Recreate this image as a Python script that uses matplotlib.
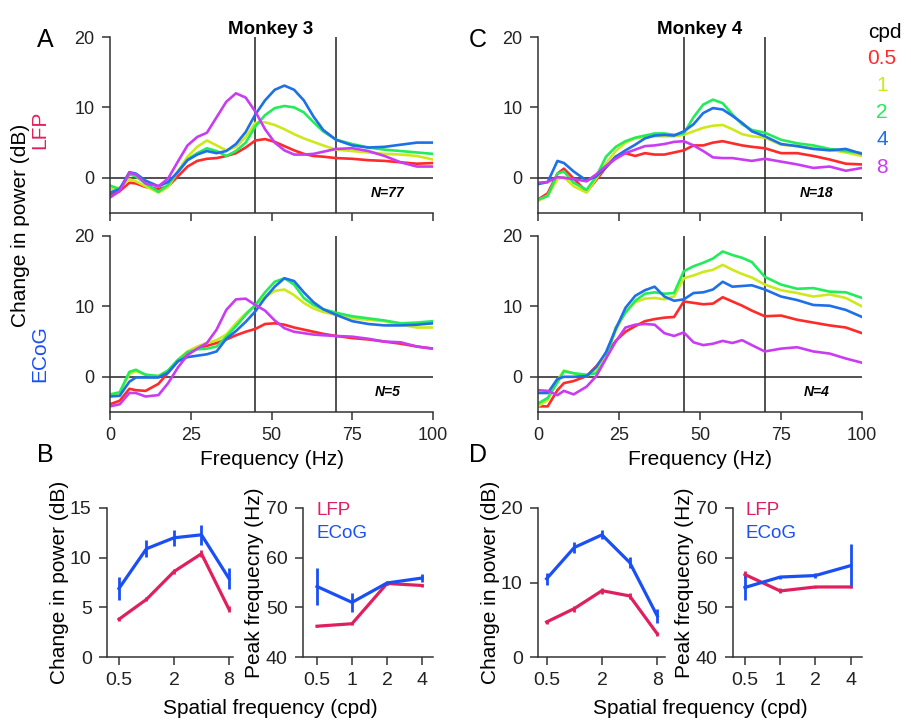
import numpy as np
import matplotlib
matplotlib.use("Agg")
import matplotlib.pyplot as plt

plt.rcParams.update({
    "font.family": ["Liberation Sans", "DejaVu Sans"],
    "font.size": 13,
    "axes.linewidth": 1.1,
    "axes.edgecolor": "#333333",
    "xtick.major.size": 6,
    "ytick.major.size": 6,
    "xtick.major.width": 1.1,
    "ytick.major.width": 1.1,
    "xtick.color": "#333333",
    "ytick.color": "#333333",
    "xtick.labelcolor": "#222222",
    "ytick.labelcolor": "#222222",
})

# ── Data: spectra (change in power, dB) ───────────────────────────────────────
freq = [0, 3, 6, 8, 11, 15, 18, 21, 24, 27, 30, 33, 36, 39, 42, 45, 48, 51, 54,
        57, 60, 63, 66, 70, 75, 80, 85, 90, 95, 100]

cpd_labels = ["0.5", "1", "2", "4", "8"]
cpd_colors = ["#ff2a2a", "#cfe81c", "#22ec5a", "#1f6fe8", "#c93cf2"]

# Monkey 3, LFP
m3_lfp_05 = [-2.4, -1.9, -0.7, -0.8, -1.3, -1.6, -1.2, 0.2, 1.6, 2.4, 2.7, 2.8, 3.1, 3.5, 4.3,
             5.3, 5.5, 5.1, 4.5, 3.9, 3.4, 3.1, 3.0, 2.8, 2.7, 2.5, 2.4, 2.2, 2.0, 2.1]
m3_lfp_1 = [-1.6, -1.4, -0.2, -0.5, -1.2, -2.1, -1.3, 0.9, 3.0, 4.4, 5.3, 4.6, 3.9, 4.4, 5.8,
            7.8, 7.9, 7.5, 6.9, 6.2, 5.6, 5.1, 4.6, 4.0, 3.8, 3.6, 3.4, 3.3, 3.1, 2.6]
m3_lfp_2 = [-1.1, -1.6, 0.5, 0.2, -0.8, -2.0, -1.0, 0.9, 2.6, 3.5, 4.2, 3.8, 3.1, 3.8, 5.0,
            7.3, 8.9, 9.9, 10.2, 10.0, 9.3, 7.9, 6.6, 5.4, 4.8, 4.3, 4.0, 3.8, 3.6, 3.4]
m3_lfp_4 = [-2.1, -1.6, 0.8, 0.6, -0.4, -1.2, -0.6, 0.8, 2.5, 3.3, 3.8, 3.5, 3.8, 4.8, 6.5,
            9.0, 11.0, 12.5, 13.1, 12.5, 11.0, 8.7, 6.8, 5.4, 4.6, 4.3, 4.4, 4.7, 5.0, 5.0]
m3_lfp_8 = [-2.8, -1.9, 0.7, 0.5, -0.8, -1.2, -0.1, 2.3, 4.6, 5.8, 6.4, 8.6, 10.8, 12.0, 11.4,
            9.4, 6.9, 5.0, 3.9, 3.3, 3.3, 3.4, 3.7, 4.1, 4.2, 3.8, 3.1, 2.2, 1.6, 1.6]

# Monkey 3, ECoG
m3_ecog_05 = [-3.9, -3.4, -1.7, -1.9, -2.0, -1.0, 0.6, 2.2, 3.2, 4.0, 4.4, 4.8, 5.3, 5.9, 6.4,
              6.8, 7.5, 7.6, 7.4, 7.0, 6.7, 6.4, 6.1, 5.8, 5.5, 5.3, 5.0, 4.7, 4.3, 4.0]
m3_ecog_1 = [-2.7, -2.3, 0.4, 0.8, 0.3, 0.1, 0.9, 2.4, 3.6, 4.3, 4.8, 5.2, 6.0, 7.6, 9.0,
             10.2, 11.3, 12.2, 12.4, 11.6, 10.5, 9.7, 9.2, 8.8, 8.3, 8.1, 7.9, 7.4, 7.0, 7.0]
m3_ecog_2 = [-2.5, -2.2, 0.7, 1.0, 0.3, 0.1, 0.9, 2.4, 3.5, 3.9, 4.0, 4.3, 5.7, 7.2, 8.8,
             10.2, 12.0, 13.5, 14.0, 13.1, 11.2, 10.2, 9.6, 9.1, 8.6, 8.3, 8.0, 7.6, 7.7, 7.9]
m3_ecog_4 = [-2.8, -2.7, -0.7, -0.1, -0.1, -0.1, 0.6, 2.2, 2.8, 3.0, 3.2, 3.6, 5.4, 6.5, 7.8,
             9.3, 11.2, 12.8, 14.0, 13.6, 12.0, 10.6, 9.6, 8.8, 7.9, 7.5, 7.3, 7.3, 7.4, 7.6]
m3_ecog_8 = [-4.2, -3.9, -2.3, -2.3, -2.8, -2.6, -0.9, 1.3, 3.1, 4.0, 4.8, 6.7, 9.5, 11.0, 11.1,
             10.2, 9.4, 8.0, 6.9, 6.4, 6.2, 6.0, 5.9, 5.8, 5.7, 5.4, 5.0, 4.9, 4.3, 4.0]

# Monkey 4, LFP
m4_lfp_05 = [-3.1, -2.2, 0.6, 1.3, -0.1, -2.0, -0.3, 1.5, 3.0, 3.5, 3.1, 3.5, 3.3, 3.3, 3.6,
             3.9, 4.6, 4.6, 5.0, 5.2, 4.9, 4.6, 4.4, 4.2, 3.5, 3.5, 3.1, 2.6, 2.0, 1.9]
m4_lfp_1 = [-3.3, -2.5, -0.2, 0.1, -1.2, -2.1, -0.1, 2.0, 3.8, 5.0, 5.6, 5.8, 5.9, 5.9, 5.9,
            6.1, 6.6, 7.1, 7.4, 7.5, 6.9, 6.2, 5.9, 5.7, 4.7, 4.5, 4.2, 4.0, 3.6, 3.1]
m4_lfp_2 = [-3.1, -2.6, 0.6, 0.9, -0.7, -1.7, 0.2, 3.0, 4.4, 5.2, 5.7, 6.0, 6.3, 6.3, 6.1,
            6.3, 8.6, 10.4, 11.1, 10.6, 9.0, 7.6, 6.8, 6.4, 5.4, 4.9, 4.6, 4.1, 3.8, 3.5]
m4_lfp_4 = [-0.9, -0.6, 2.4, 2.1, 0.9, -0.4, 0.2, 1.5, 3.0, 3.9, 4.7, 5.6, 6.0, 6.1, 6.0,
            6.6, 7.6, 9.2, 9.9, 9.7, 8.8, 7.8, 6.6, 5.9, 4.8, 4.5, 4.1, 3.9, 4.1, 3.4]
m4_lfp_8 = [-0.7, -0.6, 0.1, 0.0, -0.2, -0.5, 0.5, 1.7, 2.7, 3.5, 4.0, 4.5, 4.6, 4.8, 5.1,
            5.2, 4.6, 3.8, 2.9, 2.8, 2.8, 2.6, 2.4, 2.7, 2.3, 1.9, 1.4, 1.6, 1.0, 1.4]

# Monkey 4, ECoG
m4_ecog_05 = [-4.2, -4.2, -1.9, -0.9, -0.6, 0.1, 1.5, 3.2, 5.1, 6.4, 7.2, 7.9, 8.2, 8.4, 8.5,
              10.7, 10.5, 10.3, 10.4, 11.3, 10.7, 10.1, 9.4, 8.6, 8.7, 8.1, 7.7, 7.3, 7.0, 6.2]
m4_ecog_1 = [-4.2, -3.3, -0.5, 0.9, 0.5, 0.1, 1.0, 3.3, 6.5, 9.3, 10.6, 11.1, 11.2, 11.0, 11.4,
             14.0, 14.4, 14.9, 15.2, 15.9, 15.2, 14.6, 14.1, 13.1, 12.3, 11.9, 11.4, 11.7, 11.2, 10.0]
m4_ecog_2 = [-3.8, -3.0, -0.8, 0.8, 0.5, 0.3, 0.5, 2.6, 7.0, 9.1, 10.8, 11.8, 12.0, 11.8, 11.9,
             15.0, 15.7, 16.2, 16.8, 17.8, 17.3, 16.9, 16.3, 14.2, 13.1, 12.5, 12.6, 12.1, 12.0, 11.2]
m4_ecog_4 = [-2.3, -2.3, -0.3, 0.0, 0.0, 0.1, 1.4, 3.5, 6.8, 9.8, 11.5, 12.3, 12.8, 11.4, 10.8,
             11.0, 11.9, 12.0, 12.4, 13.5, 12.8, 12.9, 13.0, 12.4, 11.4, 10.9, 10.2, 10.1, 9.5, 8.5]
m4_ecog_8 = [-1.9, -2.0, -2.6, -2.0, -2.5, -1.4, 0.1, 2.6, 5.0, 7.0, 7.4, 7.5, 7.4, 6.2, 5.8,
             6.3, 4.9, 4.5, 4.7, 5.1, 4.8, 5.2, 4.5, 3.6, 4.0, 4.2, 3.6, 3.3, 2.6, 2.0]

# ── Data: summaries vs spatial frequency ──────────────────────────────────────
sf_power = [0.5, 1, 2, 4, 8]
sf_peak = [0.5, 1, 2, 4]

m3_pow_lfp = [3.8, 5.8, 8.6, 10.4, 4.8]
m3_pow_lfp_err = [0.2, 0.2, 0.25, 0.35, 0.3]
m3_pow_ecog = [6.9, 10.9, 12.0, 12.3, 7.9]
m3_pow_ecog_err = [1.2, 0.85, 0.8, 1.0, 1.1]
m3_peak_lfp = [46.2, 46.7, 54.8, 54.4]
m3_peak_lfp_err = [0.2, 0.3, 0.3, 0.3]
m3_peak_ecog = [54.2, 51.0, 54.9, 55.9]
m3_peak_ecog_err = [3.7, 1.9, 0.4, 0.8]

m4_pow_lfp = [4.7, 6.5, 8.9, 8.2, 3.1]
m4_pow_lfp_err = [0.3, 0.4, 0.4, 0.4, 0.3]
m4_pow_ecog = [10.5, 14.7, 16.4, 12.7, 5.5]
m4_pow_ecog_err = [0.8, 0.8, 0.6, 0.7, 1.0]
m4_peak_lfp = [56.6, 53.3, 54.1, 54.1]
m4_peak_lfp_err = [0.7, 0.5, 0.2, 0.2]
m4_peak_ecog = [54.0, 56.1, 56.4, 58.4]
m4_peak_ecog_err = [2.5, 0.3, 0.5, 4.3]

LFP_C = "#e0205e"
ECOG_C = "#1a4ff5"

W, H = 911, 724
fig = plt.figure(figsize=(W / 100, H / 100), dpi=100)


def px_axes(left, top, right, bottom):
    return fig.add_axes([left / W, 1 - bottom / H, (right - left) / W, (bottom - top) / H])


def px_text(x, y, s, **kw):
    fig.text(x / W, 1 - y / H, s, **kw)


def style(ax):
    ax.spines["top"].set_visible(False)
    ax.spines["right"].set_visible(False)
    ax.tick_params(direction="out", labelsize=13, pad=5)


# ── Spectra panels ────────────────────────────────────────────────────────────
spectra = [
    (110, 433, 37, 213, [m3_lfp_05, m3_lfp_1, m3_lfp_2, m3_lfp_4, m3_lfp_8], "N=77", False),
    (110, 433, 236, 412, [m3_ecog_05, m3_ecog_1, m3_ecog_2, m3_ecog_4, m3_ecog_8], "N=5", True),
    (538, 862, 37, 213, [m4_lfp_05, m4_lfp_1, m4_lfp_2, m4_lfp_4, m4_lfp_8], "N=18", False),
    (538, 862, 236, 412, [m4_ecog_05, m4_ecog_1, m4_ecog_2, m4_ecog_4, m4_ecog_8], "N=4", True),
]

for l, r, t, b, curves, ntext, bottom_row in spectra:
    ax = px_axes(l, t, r, b)
    style(ax)
    for vals, col in zip(curves, cpd_colors):
        ax.plot(freq, vals, color=col, lw=1.9, solid_joinstyle="round")
    ax.axhline(0, color="#222222", lw=1.1, zorder=0)
    ax.axvline(45, color="#222222", lw=1.1, zorder=0)
    ax.axvline(70, color="#222222", lw=1.1, zorder=0)
    ax.set_xlim(0, 100)
    ax.set_ylim(-5, 20)
    ax.set_xticks([0, 25, 50, 75, 100])
    ax.set_yticks([0, 10, 20])
    if not bottom_row:
        ax.set_xticklabels([])
    else:
        ax.set_xlabel("Frequency (Hz)", fontsize=15, labelpad=4)
    ax.text(86, -2.1, ntext, fontsize=10, style="italic", fontweight="bold",
            ha="center", va="center")

# ── Summary panels ────────────────────────────────────────────────────────────
summary = [
    (107, 233, 508, 657, (0.37, 8.85), (0, 15), [0, 5, 10, 15], sf_power,
     m3_pow_lfp, m3_pow_lfp_err, m3_pow_ecog, m3_pow_ecog_err, [0.5, 2, 8], "Change in power (dB)", False),
    (303, 433, 508, 657, (0.379, 4.97), (40, 70), [40, 50, 60, 70], sf_peak,
     m3_peak_lfp, m3_peak_lfp_err, m3_peak_ecog, m3_peak_ecog_err, [0.5, 1, 2, 4], "Peak frequecny (Hz)", True),
    (538, 665, 508, 657, (0.403, 9.7), (0, 20), [0, 10, 20], sf_power,
     m4_pow_lfp, m4_pow_lfp_err, m4_pow_ecog, m4_pow_ecog_err, [0.5, 2, 8], "Change in power (dB)", False),
    (733, 862, 508, 657, (0.395, 5.0), (40, 70), [40, 50, 60, 70], sf_peak,
     m4_peak_lfp, m4_peak_lfp_err, m4_peak_ecog, m4_peak_ecog_err, [0.5, 1, 2, 4], "Peak frequecny (Hz)", True),
]

for (l, r, t, b, xl, yl, yt, sf, lfp, lfp_e, ecog, ecog_e, xt, ylabel, legend) in summary:
    ax = px_axes(l, t, r, b)
    style(ax)
    ax.set_xscale("log", base=2)
    ax.errorbar(sf, lfp, yerr=lfp_e, color=LFP_C, lw=2.3, elinewidth=2.0, capsize=0)
    ax.errorbar(sf, ecog, yerr=ecog_e, color=ECOG_C, lw=2.3, elinewidth=2.0, capsize=0)
    ax.set_xlim(*xl)
    ax.set_ylim(*yl)
    ax.set_yticks(yt)
    ax.set_xticks(xt)
    ax.set_xticklabels([("%g" % v) for v in xt])
    ax.minorticks_off()
    ax.tick_params(labelsize=14)
    ax.set_ylabel(ylabel, fontsize=15, labelpad=1)
    if legend:
        ax.text(0.1, 0.98, "LFP", color=LFP_C, fontsize=13.5, transform=ax.transAxes, va="center")
        ax.text(0.1, 0.83, "ECoG", color=ECOG_C, fontsize=13.5, transform=ax.transAxes, va="center")

# ── Labels ────────────────────────────────────────────────────────────────────
px_text(271, 30, "Monkey 3", fontsize=13.5, fontweight="bold", ha="center", va="center")
px_text(700, 30, "Monkey 4", fontsize=13.5, fontweight="bold", ha="center", va="center")
for x, y, s in [(45, 40, "A"), (478, 40, "C"), (45, 455, "B"), (478, 455, "D")]:
    px_text(x, y, s, fontsize=18, ha="center", va="center")

px_text(21, 225, "Change in power (dB)", fontsize=15, rotation=90, ha="center", va="center")
px_text(40, 130, "LFP", fontsize=15, color=LFP_C, rotation=90, ha="center", va="center")
px_text(40, 354, "ECoG", fontsize=15, color=ECOG_C, rotation=90, ha="center", va="center")

px_text(885, 33, "cpd", fontsize=15, ha="center", va="center")
for i, (lab, col) in enumerate(zip(cpd_labels, cpd_colors)):
    px_text(882, 58 + i * 27.3, lab, fontsize=15, color=col, ha="center", va="center")

px_text(270, 708, "Spatial frequency (cpd)", fontsize=15, ha="center", va="center")
px_text(700, 708, "Spatial frequency (cpd)", fontsize=15, ha="center", va="center")

fig.savefig("out.png", dpi=100)
